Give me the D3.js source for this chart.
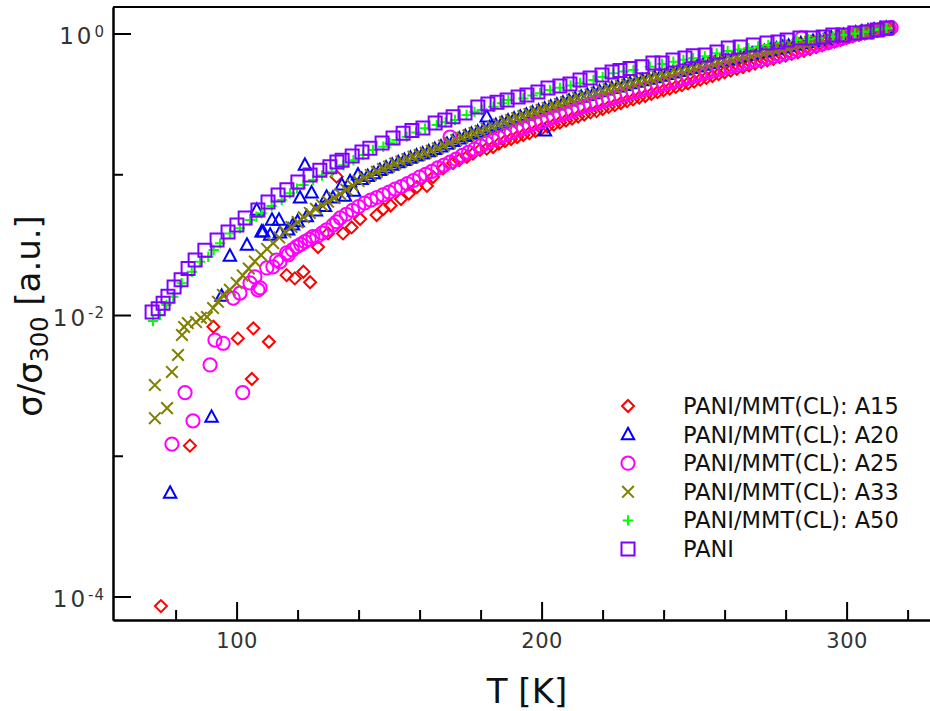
<!DOCTYPE html>
<html><head><meta charset="utf-8">
<script src="https://cdn.jsdelivr.net/npm/d3@7"></script>
<style>body{margin:0;background:#fff}svg{display:block}</style>
</head><body>
<svg id="chart" width="930" height="711"></svg>
<script>
// ---------- data: [T (K), sigma/sigma300] ----------
const A15 = [
[75.2,0.0000855],[84.7,0.00118],[92.4,0.00826],[100.4,0.00682],[105.5,0.00804],[110.6,0.00646],[105.0,0.00351],
[116.4,0.0192],[119.1,0.0182],[121.9,0.0203],[124.1,0.0171],[126.7,0.0304],[130.0,0.0380],[132.8,0.0962],[134.9,0.0380],
[137.7,0.0419],[140.5,0.0481],[145.9,0.0513],[148.1,0.0566],[150.5,0.0600],[153.9,0.0667],[156.5,0.0730],[159.1,0.0811],
[162.4,0.0826],[164.4,0.0955],[167.7,0.110],[171.0,0.120],[173.0,0.126],[175.5,0.133],[177.5,0.140],[179.8,0.149],[182.0,0.152],[184.1,0.156],
[186,0.165],[188,0.172],[190,0.178],[192,0.184],[194,0.190],[196,0.196],[198,0.203],[200,0.211],[202,0.218],[204,0.225],
[206,0.233],[208,0.241],[210,0.249],[212,0.257],[214,0.266],[216,0.275],[218,0.281],[220,0.291],[222,0.301],[224,0.310],
[226,0.321],[228,0.331],[230,0.340],[232,0.351],[234,0.360],[236,0.372],[238,0.383],[240,0.395],[242,0.406],[244,0.418],
[246,0.430],[248,0.443],[250,0.456],[252,0.470],[254,0.484],[256,0.499],[258,0.514],[260,0.530],[262,0.546],[264,0.562],
[266,0.578],[268,0.595],[270,0.612],[272,0.628],[274,0.645],[276,0.662],[278,0.680],[280,0.698],[282,0.716],[284,0.735],
[286,0.754],[288,0.776],[290,0.800],[292,0.825],[294,0.850],[296,0.875],[298,0.900],[300,0.930],[302,0.955],[304,0.980],
[306,1.000],[308,1.020],[310,1.040],[312,1.060],[314,1.080]
];
const A20 = [
[78.2,0.000543],[91.8,0.00188],[95.1,0.0136],[97.8,0.0262],[103.4,0.0314],[106.6,0.0557],[108.2,0.0390],[108.7,0.0389],
[111.0,0.0370],[111.6,0.0473],[113.9,0.0473],[114.2,0.0383],[116.9,0.0402],[118.5,0.0436],[120.0,0.0460],[120.8,0.0678],
[122.4,0.116],[123.0,0.0500],[124.6,0.0736],[126.0,0.0550],[129.0,0.0590],[129.5,0.0689],[131.6,0.0678],[134.5,0.0839],
[135.5,0.0700],[137.2,0.0885],[138.5,0.0760],[139.8,0.0988],
[141,0.0920],[143,0.0965],[145,0.101],[147,0.1065],[149,0.111],[151,0.116],[153,0.121],[155,0.1255],[157,0.130],[159,0.135],
[161,0.1395],[163,0.1445],[165,0.150],[167,0.1565],[169,0.1635],[171,0.171],[173,0.1785],[175,0.1855],[177,0.1925],[179,0.1995],
[181,0.2065],[182.0,0.256],[183,0.214],[185,0.222],[187,0.2305],[189,0.239],[191,0.247],[193,0.255],[195,0.2635],[197,0.2725],
[199,0.2815],[201.1,0.203],[201,0.291],[203,0.3005],[205,0.3105],[207,0.321],[209,0.3315],[211,0.3425],[213,0.353],[215,0.3635],
[217,0.3745],[219,0.386],[221,0.397],[223,0.407],[225,0.4175],[227,0.4285],[229,0.4395],[231,0.4505],[233,0.462],[235,0.474],
[237,0.486],[239,0.4985],[241,0.5115],[243,0.5245],[245,0.538],[247,0.5515],[249,0.5655],[251,0.580],[253,0.595],[255,0.6105],
[257,0.625],[259,0.6395],[261,0.6545],[263,0.670],[265,0.6855],[267,0.7015],[269,0.717],[271,0.732],[273,0.7475],[275,0.763],
[277,0.779],[279,0.7955],[281,0.812],[283,0.829],[285,0.8465],[287,0.863],[289,0.879],[291,0.8955],[293,0.912],[295,0.930],
[297,0.9495],[299,0.969],[301,0.9895],[303,1.0095],[305,1.027],[307,1.0435],[309,1.0605],[311,1.0765],[313,1.090]
];
const A25 = [
[78.8,0.00121],[83.1,0.00281],[85.7,0.00177],[91.3,0.00442],[92.9,0.00664],[95.6,0.00630],[102.0,0.00281],[98.9,0.0132],
[101.1,0.0143],[104.4,0.0169],[106.0,0.0187],[107.0,0.0151],[107.7,0.0156],[109.9,0.0216],[111.9,0.0220],[113.1,0.0246],
[114.2,0.0239],[116.4,0.0276],[116.9,0.0268],[118.3,0.0290],[119.7,0.0306],[121.0,0.0318],[122.4,0.0332],[123.8,0.0345],[125.0,0.0360],[126.3,0.0360],
[128.0,0.0382],[129.5,0.0402],[131.6,0.0436],[132.8,0.0460],
[134,0.0490],[136,0.0520],[138,0.0555],[140,0.0590],[142,0.0625],[144,0.0656],[146,0.0684],[148,0.0713],[150,0.0748],[152,0.0785],
[154,0.0818],[156,0.0859],[158,0.0903],[160,0.0955],[162,0.100],[164,0.105],[166,0.111],[168,0.116],[170,0.122],[170.0,0.184],
[172,0.128],[174,0.136],[176,0.143],[178,0.151],[180,0.159],[182,0.167],[184,0.175],[186,0.182],[188,0.190],[190,0.198],
[192,0.206],[194,0.213],[196,0.222],[198,0.231],[200,0.237],[202,0.245],[204,0.255],[206,0.264],[208,0.272],[210,0.281],
[212,0.293],[214,0.303],[216,0.313],[218,0.321],[220,0.331],[222,0.340],[224,0.351],[226,0.360],[228,0.372],[230,0.384],
[232,0.394],[234,0.404],[236,0.413],[238,0.424],[240,0.438],[242,0.449],[244,0.460],[246,0.475],[248,0.486],[250,0.499],
[252,0.515],[254,0.528],[256,0.542],[258,0.555],[260,0.569],[262,0.583],[264,0.597],[266,0.612],[268,0.628],[270,0.638],
[272,0.653],[274,0.670],[276,0.687],[278,0.703],[280,0.722],[282,0.742],[284,0.762],[285.3,0.930],[286,0.782],[288,0.802],
[290,0.822],[292,0.843],[294,0.865],[296,0.890],[298,0.915],[300,0.945],[302,0.972],[304,0.998],[306,1.020],[308,1.040],
[310,1.055],[312,1.070],[314,1.085],[314.6,1.100]
];
const A33 = [
[73.2,0.00318],[73.2,0.00185],[77.2,0.00218],[78.8,0.00394],[80.8,0.0052],[82.1,0.00721],[82.8,0.00822],[84.0,0.00877],
[86.7,0.00891],[88.3,0.00953],[90.3,0.00968],[92.3,0.0112],[93.9,0.0124],[95.5,0.0139],[97.8,0.0151],
[100,0.0169],[102,0.0191],[104,0.0214],[106,0.0240],[108,0.0267],[110,0.0295],[112,0.0324],[114,0.0355],[116,0.0389],[118,0.0422],
[120,0.0457],[122,0.0495],[124,0.0531],[126,0.0569],[128,0.0603],[130,0.0638],[132,0.0678],[134,0.0724],[136,0.0776],[138,0.0832],
[140,0.0895],[142,0.0944],[144,0.0989],[146,0.104],[148,0.109],[150,0.1135],[152,0.119],[154,0.123],[156,0.128],[158,0.133],
[160,0.137],[162,0.142],[164,0.147],[166,0.153],[168,0.160],[170,0.167],[172,0.175],[174,0.182],[176,0.189],[178,0.196],
[180,0.203],[182,0.210],[184,0.218],[186,0.226],[188,0.235],[190,0.243],[192,0.251],[194,0.259],[196,0.268],[198,0.277],
[200,0.286],[202,0.296],[204,0.305],[206,0.316],[208,0.326],[210,0.337],[212,0.348],[214,0.358],[216,0.369],[218,0.380],
[220,0.392],[222,0.402],[224,0.412],[226,0.423],[228,0.434],[230,0.445],[232,0.456],[234,0.468],[236,0.480],[238,0.492],
[240,0.505],[242,0.518],[244,0.531],[246,0.545],[248,0.558],[250,0.573],[252,0.587],[254,0.603],[256,0.618],[258,0.632],
[260,0.647],[262,0.662],[264,0.678],[266,0.693],[268,0.710],[270,0.724],[272,0.740],[274,0.755],[276,0.771],[278,0.787],
[280,0.804],[282,0.820],[284,0.838],[286,0.855],[288,0.871],[290,0.887],[292,0.904],[294,0.920],[296,0.940],[298,0.959],
[300,0.979],[302,1.000],[304,1.019],[306,1.035],[308,1.052],[310,1.069],[312,1.084],[314,1.096]
];
const A50 = [
[72.6,0.00906],[74.9,0.0100],[77.0,0.0118],[79.2,0.0135],[82.0,0.0168],[85.3,0.0203],[88.0,0.0239],[90.7,0.0259],[92.5,0.0290],
[94.6,0.0323],[97.8,0.0380],[101.1,0.0413],[104.4,0.0473],[106.5,0.0500],[108.2,0.0528],[111.5,0.0595],[114.8,0.0656],
[117.5,0.0732],[119.8,0.0790],[121.9,0.0839],[125.1,0.0910],[128.0,0.0980],[131.2,0.104],[135.0,0.116],[138.3,0.126],
[141.5,0.137],[144.7,0.149],[148.1,0.157],[150.2,0.166],[152.5,0.175],[155.8,0.185],[158.8,0.198],[161.8,0.212],[165.6,0.224],
[168.5,0.234],[171.6,0.243],[175.4,0.264],[178.0,0.277],[180.4,0.286],[184.2,0.302],[187.0,0.320],[189.1,0.337],[194.0,0.346],
[197.0,0.362],[199.5,0.376],[202.8,0.397],[206.0,0.412],[209.5,0.428],[212.6,0.443],[217.0,0.467],[220.0,0.490],[223.5,0.521],
[227.0,0.538],[230.1,0.550],[235.5,0.581],[239.5,0.607],[243.2,0.631],[246.5,0.650],[249.7,0.667],[253.5,0.690],[257.4,0.723],
[261.0,0.752],[264.5,0.770],[267.8,0.785],[271.0,0.808],[274.3,0.829],[278.5,0.860],[283.6,0.899],[287.5,0.910],[290.7,0.925],
[295.6,0.949],[299.0,0.975],[302.7,1.000],[305.5,1.030],[308.7,1.060],[311.0,1.075],[313.1,1.090]
];
const PANI = [
[72.3,0.0105],[74.3,0.0111],[75.9,0.0121],[77.5,0.0136],[79.5,0.0158],[81.8,0.0178],[84.1,0.0214],[86.4,0.0246],[89.6,0.0288],
[93.6,0.0341],[97.2,0.0389],[100.1,0.0436],[102.8,0.0489],[107.0,0.0557],[110.3,0.0635],[113.6,0.0712],[116.5,0.0776],
[120.1,0.0881],[124.1,0.0988],[127.3,0.107],[130.6,0.113],[132.9,0.122],[134.6,0.126],[137.9,0.135],[141.1,0.144],[143.7,0.153],
[147.7,0.167],[151.3,0.181],[154.6,0.196],[157.5,0.205],[161.1,0.213],[165.1,0.231],[168.3,0.243],[171.0,0.256],[174.9,0.272],
[179.1,0.300],[182.4,0.316],[185.4,0.325],[188.7,0.337],[192.3,0.354],[195.2,0.366],[198.8,0.384],[202.1,0.410],[206.0,0.424],
[209.3,0.438],[212.6,0.467],[215.9,0.483],[219.8,0.507],[223.1,0.533],[225.7,0.546],[229.0,0.565],[232.9,0.580],[236.5,0.617],
[239.5,0.617],[243.1,0.648],[247.0,0.670],[249.7,0.695],[253.6,0.704],[257.5,0.739],[261.2,0.789],[265.1,0.802],[269.4,0.828],
[273.9,0.857],[277.5,0.871],[280.5,0.899],[284.7,0.929],[289.0,0.929],[292.3,0.944],[295.5,0.976],[298.8,0.976],[302.7,1.008],
[306.7,1.025],[310.0,1.059],[313.2,1.094]
];
const seriesNames = ["PANI/MMT(CL): A15","PANI/MMT(CL): A20","PANI/MMT(CL): A25","PANI/MMT(CL): A33","PANI/MMT(CL): A50","PANI"];
const seriesData = [A15, A20, A25, A33, A50, PANI];
const seriesColors = ["#ff0000","#0000ff","#ff00ff","#808000","#00ff00","#8000ff"];
const seriesShapes = ["diamond","triangle","circle","cross","plus","square"];
const xMajorTicks = [100, 200, 300];
const xMinorTicks = [80, 120, 140, 160, 180, 220, 240, 260, 280, 320];
const yMajorTicks = [1e-4, 1e-2, 1];
const yMajorExp = ["-4", "-2", "0"];
const yMinorTicks = [1e-3, 1e-1];

// ---------- chart ----------
const FONT = "'DejaVu Sans', sans-serif";
const svg = d3.select("#chart");
const L = 113, R = 930, T = 7, B = 620;
const x = d3.scaleLinear().domain([59.48, 327.34]).range([L, R]);
const y = d3.scaleLog().domain([6.81e-5, 1.543]).range([B, T]);

const shapes = {
  diamond: "M0,-6L6,0L0,6L-6,0Z",
  triangle: "M0,-6.8L6.2,4.6L-6.2,4.6Z",
  circle: "M6.6,0A6.6,6.6 0 1,1 -6.6,0A6.6,6.6 0 1,1 6.6,0Z",
  cross: "M-5.8,-5.8L5.8,5.8M-5.8,5.8L5.8,-5.8",
  plus: "M-5.2,0L5.2,0M0,-5.2L0,5.2",
  square: "M-6.5,-6.5L6.5,-6.5L6.5,6.5L-6.5,6.5Z"
};

const plot = svg.append("g");
seriesData.forEach((data, i) => {
  plot.append("g").selectAll("path").data(data).join("path")
    .attr("d", shapes[seriesShapes[i]])
    .attr("transform", d => `translate(${x(d[0])},${y(d[1])})`)
    .attr("fill", "none")
    .attr("stroke", seriesColors[i])
    .attr("stroke-width", 2);
});

// axes
const axisStyle = g => {
  g.selectAll("path.domain").attr("stroke", "#000").attr("stroke-width", 2);
  g.selectAll(".tick line").attr("stroke", "#000").attr("stroke-width", 2);
  g.selectAll("text").attr("font-family", FONT).attr("fill", "#333");
};
svg.append("g").attr("transform", `translate(0,${B})`)
  .call(d3.axisBottom(x).tickValues(xMinorTicks).tickSize(-10).tickSizeOuter(0).tickFormat(""))
  .call(axisStyle);
svg.append("g").attr("transform", `translate(0,${B})`)
  .call(d3.axisBottom(x).tickValues(xMajorTicks).tickSize(-18).tickSizeOuter(0).tickPadding(13).tickFormat(d3.format("d")))
  .call(axisStyle)
  .call(g => g.selectAll("text").attr("font-size", 21).attr("letter-spacing", "0.5px"));

svg.append("g").attr("transform", `translate(${L},0)`)
  .call(d3.axisLeft(y).tickValues(yMinorTicks).tickSize(-10).tickSizeOuter(0).tickFormat(""))
  .call(axisStyle);
const yAx = svg.append("g").attr("transform", `translate(${L},0)`)
  .call(d3.axisLeft(y).tickValues(yMajorTicks).tickSize(-18).tickSizeOuter(0).tickPadding(8).tickFormat(""))
  .call(axisStyle);
yAx.selectAll(".tick text").each(function(d, i) {
  const t = d3.select(this).attr("font-size", 23).attr("dy", "0.45em").attr("letter-spacing", "3px");
  t.append("tspan").text("10");
  t.append("tspan").attr("dy", "-0.5em").attr("font-size", 15).attr("letter-spacing", "1px").text(yMajorExp[i]);
});

// top frame line
svg.append("line").attr("x1", L).attr("x2", R).attr("y1", T).attr("y2", T)
  .attr("stroke", "#000").attr("stroke-width", 2);

// axis titles
svg.append("text").attr("x", 527).attr("y", 703).attr("text-anchor", "middle")
  .attr("font-family", FONT).attr("font-size", 34).attr("fill", "#111").text("T [K]");
const yt = svg.append("text").attr("transform", "translate(42,316) rotate(-90)")
  .attr("text-anchor", "middle").attr("font-family", FONT).attr("font-size", 34).attr("fill", "#111");
yt.append("tspan").text("σ/σ");
yt.append("tspan").attr("font-size", 24).attr("dy", "0.25em").text("300");
yt.append("tspan").attr("dy", "-0.25em").text(" [a.u.]");

// legend
const leg = svg.append("g");
seriesNames.forEach((name, i) => {
  const cy = 406 + i * 28.6;
  leg.append("path").attr("d", shapes[seriesShapes[i]])
    .attr("transform", `translate(628,${cy})`)
    .attr("fill", "none").attr("stroke", seriesColors[i]).attr("stroke-width", 2);
  leg.append("text").attr("x", 683).attr("y", cy + 8)
    .attr("font-family", FONT).attr("font-size", 22.5).attr("fill", "#111").text(name);
});
</script>
</body></html>
